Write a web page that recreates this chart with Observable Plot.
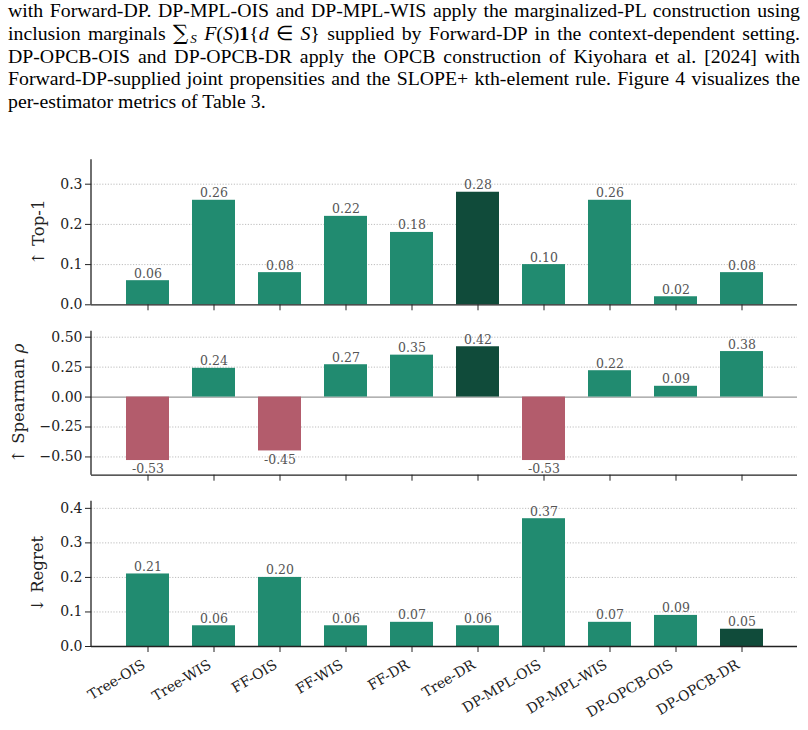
<!DOCTYPE html>
<html>
<head>
<meta charset="utf-8">
<script src="https://cdn.jsdelivr.net/npm/d3@7"></script>
<script src="https://cdn.jsdelivr.net/npm/@observablehq/plot@0.6"></script>
<style>
  html, body { margin: 0; padding: 0; background: #fff; }
  #page { position: relative; width: 808px; height: 730px; overflow: hidden; background: #fff; }
  #para { position: absolute; left: 8px; top: -1px; width: 792px;
          font-family: "Liberation Serif", "Times New Roman", serif; font-size: 19.8px;
          line-height: 22.75px; color: #000; }
  #para .l { text-align: justify; text-align-last: justify; white-space: nowrap; height: 22.75px; }
  #para .l.last { text-align-last: left; }
  #para .sum { font-family: "DejaVu Serif", serif; font-size: 1.08em; line-height: 0; }
  #para .sub { font-size: 0.66em; font-style: italic; position: relative; top: 0.22em; line-height: 0; margin-left: 2px; }
  .panel { position: absolute; left: 0; }
</style>
</head>
<body>
<div id="page">
  <div id="para">
    <div class="l">with Forward-DP. DP-MPL-OIS and DP-MPL-WIS apply the marginalized-PL construction using</div>
    <div class="l">inclusion marginals <span class="sum">∑</span><span class="sub">S</span> <i>F</i>(<i>S</i>)<b>1</b>{<i>d</i> ∈ <i>S</i>} supplied by Forward-DP in the context-dependent setting.</div>
    <div class="l">DP-OPCB-OIS and DP-OPCB-DR apply the OPCB construction of Kiyohara et al. [2024] with</div>
    <div class="l">Forward-DP-supplied joint propensities and the SLOPE+ kth-element rule. Figure 4 visualizes the</div>
    <div class="l last">per-estimator metrics of Table 3.</div>
  </div>
</div>
<script>
// Per-estimator metrics (Table 3)
const estimators = ["Tree-OIS", "Tree-WIS", "FF-OIS", "FF-WIS", "FF-DR", "Tree-DR",
                    "DP-MPL-OIS", "DP-MPL-WIS", "DP-OPCB-OIS", "DP-OPCB-DR"];
const top1     = [0.06, 0.26, 0.08, 0.22, 0.18, 0.28, 0.10, 0.26, 0.02, 0.08];
const spearman = [-0.53, 0.24, -0.45, 0.27, 0.35, 0.42, -0.53, 0.22, 0.09, 0.38];
const regret   = [0.21, 0.06, 0.20, 0.06, 0.07, 0.06, 0.37, 0.07, 0.09, 0.05];

const top1Ticks     = [0, 0.1, 0.2, 0.3];
const spearmanTicks = [-0.5, -0.25, 0, 0.25, 0.5];
const regretTicks   = [0, 0.1, 0.2, 0.3, 0.4];

const GREEN = "#218b70";
const DARK  = "#104b3a";
const RED   = "#b35c6c";
const INK   = "#222";

const argmax = a => a.indexOf(d3.max(a));
const argmin = a => a.indexOf(d3.min(a));

function panel({values, domain, ticks, fmt, label, labelDx, best, top, height, marginTop, marginBottom, xLabels, zero}) {
  const rows = estimators.map((name, i) => ({
    name, value: values[i],
    color: i === best ? DARK : values[i] < 0 ? RED : GREEN
  }));
  const ML = 91, MR = 11;
  const plot = Plot.plot({
    width: 808, height, marginLeft: ML, marginRight: MR, marginTop, marginBottom,
    style: {fontFamily: "'DejaVu Serif', serif", fontSize: "14px", color: INK, background: "transparent", overflow: "visible"},
    x: {domain: estimators, paddingInner: 0.35, paddingOuter: 0.497, tickSize: 6, tickPadding: 10,
        tickRotate: xLabels ? -31 : 0, tickFormat: xLabels ? (d => d) : (() => ""), label: null},
    y: {domain, ticks, tickFormat: d3.format(fmt), tickSize: 6, tickPadding: 3, label: null},
    color: {type: "identity"},
    marks: [
      Plot.ruleY(ticks.filter(t => t !== 0), {stroke: "#bdbdbd", strokeWidth: 1, strokeDasharray: "1.2,1.6"}),
      zero ? Plot.ruleY([0], {stroke: "#999", strokeWidth: 1.3}) : null,
      Plot.barY(rows, {x: "name", y: "value", fill: "color"}),
      Plot.text(rows.filter(d => d.value >= 0), {x: "name", y: "value", text: d => d.value.toFixed(2),
        lineAnchor: "bottom", dy: -3, fontSize: 12.5, fill: "#555"}),
      Plot.text(rows.filter(d => d.value < 0), {x: "name", y: "value", text: d => d.value.toFixed(2),
        lineAnchor: "top", dy: 4, fontSize: 12.5, fill: "#555"}),
      Plot.ruleY([domain[0]], {stroke: INK, strokeWidth: 1.3}),
      Plot.text([label], {frameAnchor: "left", textAnchor: "middle", rotate: -90, dx: labelDx, fontSize: 16.5, fill: INK})
    ]
  });
  // left spine
  d3.select(plot).append("line")
    .attr("x1", ML).attr("x2", ML)
    .attr("y1", marginTop).attr("y2", height - marginBottom)
    .attr("stroke", INK).attr("stroke-width", 1.3);
  // nudge rotated category labels so their upper-right corner sits under the tick
  if (xLabels) {
    d3.select(plot).selectAll("text")
      .filter(function() { return estimators.includes(this.textContent); })
      .each(function() {
        const tr = this.getAttribute("transform") || "";
        this.setAttribute("transform", "translate(-4,1) " + tr);
      });
  }
  const wrap = document.createElement("div");
  wrap.className = "panel";
  wrap.style.top = top + "px";
  wrap.appendChild(plot);
  document.getElementById("page").appendChild(wrap);
  return plot;
}

panel({values: top1, domain: [0, 0.3607], ticks: top1Ticks, fmt: ".1f", label: "↑ Top-1", labelDx: -53,
       best: argmax(top1), top: 140, height: 176, marginTop: 19.3, marginBottom: 11.7, xLabels: false, zero: false});

const sp = panel({values: spearman, domain: [-0.6525, 0.55], ticks: spearmanTicks, fmt: ".2f", label: "↑ Spearman ρ", labelDx: -73,
       best: argmax(spearman), top: 316, height: 170, marginTop: 14.7, marginBottom: 11.3, xLabels: false, zero: true});

// italic rho in the Spearman axis title
d3.select(sp).selectAll("text").filter(function() { return this.textContent === "↑ Spearman ρ"; })
  .each(function() {
    const t = d3.select(this);
    t.text(null);
    t.append("tspan").text("↑ Spearman ");
    t.append("tspan").attr("font-style", "italic").text("ρ");
  });

panel({values: regret, domain: [0, 0.4207], ticks: regretTicks, fmt: ".1f", label: "↓ Regret", labelDx: -54,
       best: argmin(regret), top: 486, height: 244, marginTop: 14.7, marginBottom: 84, xLabels: true, zero: false});
</script>
</body>
</html>
